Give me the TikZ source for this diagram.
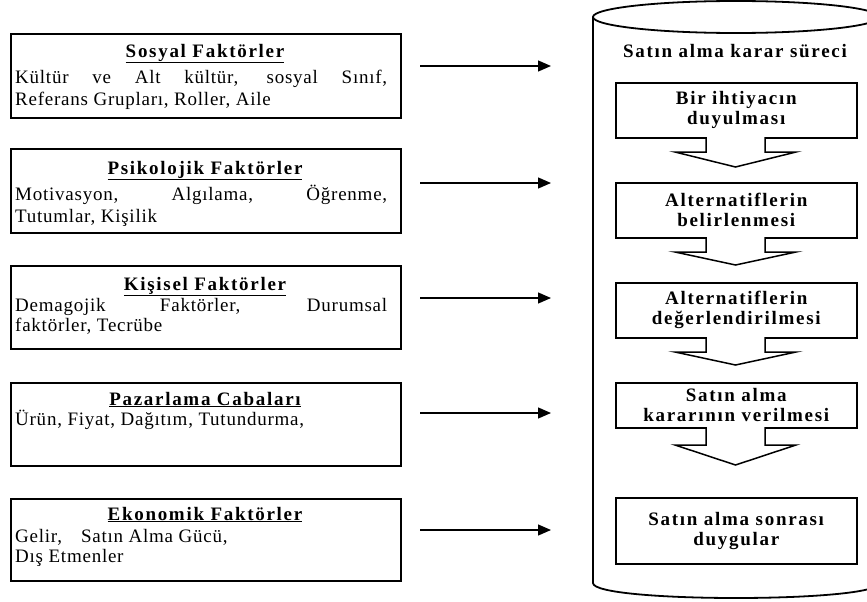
\documentclass[tikz,border=0pt]{standalone}
\usepackage{fontspec}
\setmainfont{Liberation Serif}
\newfontfamily\lsfont{Liberation Serif}[LetterSpace=9]
\newfontfamily\bdfont{Liberation Serif}[LetterSpace=4]
\usetikzlibrary{arrows.meta}
\begin{document}
\begin{tikzpicture}[x=1pt,y=-1pt,
  lbox/.style={draw, line width=1.6pt, minimum width=390pt, inner sep=0pt, anchor=north west},
  ttl/.style={font=\lsfont\fontsize{19}{20}\selectfont\bfseries, inner sep=0pt, anchor=base},
  body/.style={font=\bdfont\fontsize{19}{22}\selectfont, inner sep=0pt, anchor=base west},
  pbox/.style={draw, line width=1.5pt, fill=white, minimum width=241pt, inner sep=0pt, anchor=north west,
    font=\lsfont\fontsize{19}{20}\selectfont\bfseries, align=center},
  flowline/.style={line width=1.5pt, line join=miter},
  conn/.style={line width=1.3pt, -{Triangle[length=13pt,width=11pt]}},
  cyl/.style={line width=1.8pt},
]
\clip (0,0) rectangle (867,602);
\fill[white] (0,0) rectangle (867,602);

% ---------- cylinder ----------
\draw[cyl] (593,17) -- (593,583) .. controls (593,603) and (879,603) .. (879,583) -- (879,17);
\draw[cyl] (736,17) ellipse [x radius=143, y radius=16];

\node[font=\lsfont\fontsize{19}{20}\selectfont\bfseries, inner sep=0pt, anchor=base] (hdr) at (735,58) {Satın alma karar süreci};

% ---------- process boxes ----------
\node[pbox, minimum height=55pt] (P1) at (615,82) {Bir ihtiyacın\\duyulması};
\node[pbox, minimum height=55pt] (P2) at (615,182) {Alternatiflerin\\belirlenmesi};
\node[pbox, minimum height=55pt] (P3) at (615,282) {Alternatiflerin\\değerlendirilmesi};
\node[pbox, minimum height=45pt] (P4) at (615,382) {Satın alma\\kararının verilmesi};
\node[pbox, minimum height=66pt] (P5) at (615,497) {Satın alma sonrası\\duygular};

% block arrows between process boxes
\foreach \b/\h/\t in {137/152/167, 237/252/265, 337/352/365, 427/445/465}{
  \fill[white] (706,\b-3) -- (706,\h) -- (675,\h) -- (735.5,\t) -- (796,\h) -- (765,\h) -- (765,\b-3) -- cycle;
  \draw[flowline] (706,\b) -- (706,\h) -- (675,\h) -- (735.5,\t) -- (796,\h) -- (765,\h) -- (765,\b);
}

% ---------- left factor boxes ----------
\node[lbox, minimum height=84pt] (L1) at (10,33) {};
\node[ttl] (L1t) at (205,57) {\underline{Sosyal Faktörler}};
\node[body] (L1a) at (15,83) {\makebox[372pt][s]{Kültür ve Alt kültür, sosyal Sınıf,}};
\node[body] (L1b) at (15,105) {Referans Grupları, Roller, Aile};

\node[lbox, minimum height=84pt] (L2) at (10,148) {};
\node[ttl] (L2t) at (205,174) {\underline{Psikolojik Faktörler}};
\node[body] (L2a) at (15,200) {\makebox[372pt][s]{Motivasyon, Algılama, Öğrenme,}};
\node[body] (L2b) at (15,222) {Tutumlar, Kişilik};

\node[lbox, minimum height=83pt] (L3) at (10,265) {};
\node[ttl] (L3t) at (205,290) {\underline{Kişisel Faktörler}};
\node[body] (L3a) at (15,311) {\makebox[372pt][s]{Demagojik Faktörler, Durumsal}};
\node[body] (L3b) at (15,331) {faktörler, Tecrübe};

\node[lbox, minimum height=83pt] (L4) at (10,382) {};
\node[ttl] (L4t) at (205,405) {\underline{Pazarlama Cabaları}};
\node[body] (L4a) at (15,425) {Ürün, Fiyat, Dağıtım, Tutundurma,};

\node[lbox, minimum height=82pt] (L5) at (10,498) {};
\node[ttl] (L5t) at (205,520) {\underline{Ekonomik Faktörler}};
\node[body] (L5a) at (15,542) {Gelir,\hspace{1em}Satın Alma Gücü,};
\node[body] (L5b) at (15,562) {Dış Etmenler};

% ---------- connectors ----------
\foreach \i/\y in {1/66, 2/183, 3/298, 4/413, 5/530}{
  \coordinate (a\i s) at (420,\y);
  \coordinate (a\i e) at (551,\y);
  \draw[conn] (a\i s) -- (a\i e);
}
\end{tikzpicture}
\end{document}
